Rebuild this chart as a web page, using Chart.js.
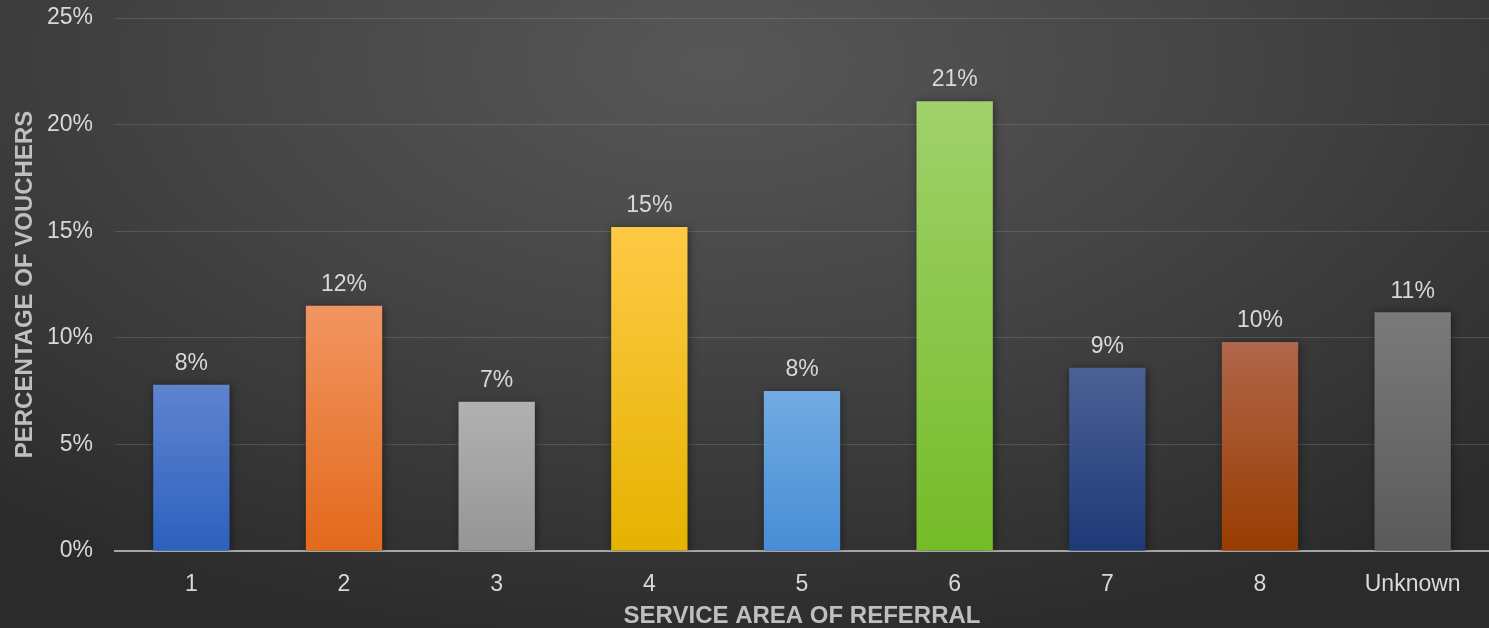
<!DOCTYPE html>
<html>
<head>
<meta charset="utf-8">
<script src="https://cdn.jsdelivr.net/npm/chart.js@4/dist/chart.umd.min.js"></script>
<style>
    html, body {
        margin: 0;
        padding: 0;
    }
    body {
        width: 1489px;
        height: 628px;
        overflow: hidden;
        background: radial-gradient(ellipse 75% 95% at 48% 10%, #575757 0%, #454545 45%, #2b2b2b 100%);
    }
    #wrap {
        position: relative;
        width: 1489px;
        height: 628px;
    }
</style>
</head>
<body>
<div id="wrap">
    <canvas id="voucherChart"></canvas>
</div>
<script>
const areas = ["1", "2", "3", "4", "5", "6", "7", "8", "Unknown"];
const percentages = [7.8, 11.5, 7.0, 15.2, 7.5, 21.1, 8.6, 9.8, 11.2];
const valueLabels = ["8%", "12%", "7%", "15%", "8%", "21%", "9%", "10%", "11%"];
const topColors = ["#5f84d0", "#f29562", "#b1b1b1", "#ffc945", "#72abe2", "#a0d16b", "#4c6196", "#b0664a", "#7a7a7a"];
const bottomColors = ["#2c60bd", "#e3691b", "#959595", "#e4b300", "#468dd5", "#75bb28", "#1d3976", "#993c00", "#5a5a5a"];

const FONT = "'Liberation Sans', Arial, sans-serif";

function barGradient(context) {
    const chart = context.chart;
    const i = context.dataIndex;
    if (!chart.chartArea) return topColors[i];
    const y = chart.scales.y;
    const top = y.getPixelForValue(percentages[i]);
    const bottom = y.getPixelForValue(0);
    const g = chart.ctx.createLinearGradient(0, top, 0, bottom);
    g.addColorStop(0, topColors[i]);
    g.addColorStop(1, bottomColors[i]);
    return g;
}

const barShadow = {
    id: "barShadow",
    beforeDatasetsDraw(chart) {
        const ctx = chart.ctx;
        ctx.save();
        ctx.shadowColor = "rgba(0,0,0,0.45)";
        ctx.shadowBlur = 8;
        ctx.shadowOffsetX = 1;
        ctx.shadowOffsetY = 1;
    },
    afterDatasetsDraw(chart) {
        chart.ctx.restore();
    }
};

const valueLabelPlugin = {
    id: "valueLabels",
    afterDatasetsDraw(chart) {
        const ctx = chart.ctx;
        const meta = chart.getDatasetMeta(0);
        ctx.save();
        ctx.font = "23px " + FONT;
        ctx.fillStyle = "#d9d9d9";
        ctx.textAlign = "center";
        ctx.textBaseline = "middle";
        meta.data.forEach((bar, i) => {
            ctx.fillText(valueLabels[i], bar.x, bar.y - 21);
        });
        ctx.restore();
    }
};

const ctx = document.getElementById("voucherChart");

new Chart(ctx, {
    type: "bar",
    data: {
        labels: areas,
        datasets: [{
            label: "Percentage of vouchers",
            data: percentages,
            backgroundColor: barGradient,
            borderWidth: 0,
            barPercentage: 0.5,
            categoryPercentage: 1.0
        }]
    },
    options: {
        responsive: true,
        maintainAspectRatio: false,
        animation: false,
        layout: {
            padding: { top: 18, right: 0, bottom: 0, left: 0 }
        },
        plugins: {
            legend: { display: false },
            tooltip: { enabled: false }
        },
        scales: {
            x: {
                afterFit(scale) { scale.height = 77; },
                grid: { display: false },
                border: { color: "#a6a6a6", width: 2 },
                ticks: {
                    color: "#d9d9d9",
                    font: { family: FONT, size: 23 },
                    padding: 12
                },
                title: {
                    display: true,
                    text: "SERVICE AREA OF REFERRAL",
                    color: "#bfbfbf",
                    font: { family: FONT, size: 24, weight: "bold" },
                    padding: { top: 5, bottom: -3 }
                }
            },
            y: {
                afterFit(scale) {
                    scale.width = 115;
                    scale.paddingTop = 0;
                    scale.paddingBottom = 0;
                },
                min: 0,
                max: 25,
                grid: { color: "rgba(255,255,255,0.13)", lineWidth: 1, drawTicks: false },
                border: { display: false },
                ticks: {
                    stepSize: 5,
                    color: "#d9d9d9",
                    font: { family: FONT, size: 23 },
                    padding: 22,
                    callback: v => v + "%"
                },
                title: {
                    display: true,
                    text: "PERCENTAGE OF VOUCHERS",
                    color: "#bfbfbf",
                    font: { family: FONT, size: 24, weight: "bold" },
                    padding: { top: 11, bottom: 0 }
                }
            }
        }
    },
    plugins: [barShadow, valueLabelPlugin]
});
</script>
</body>
</html>
